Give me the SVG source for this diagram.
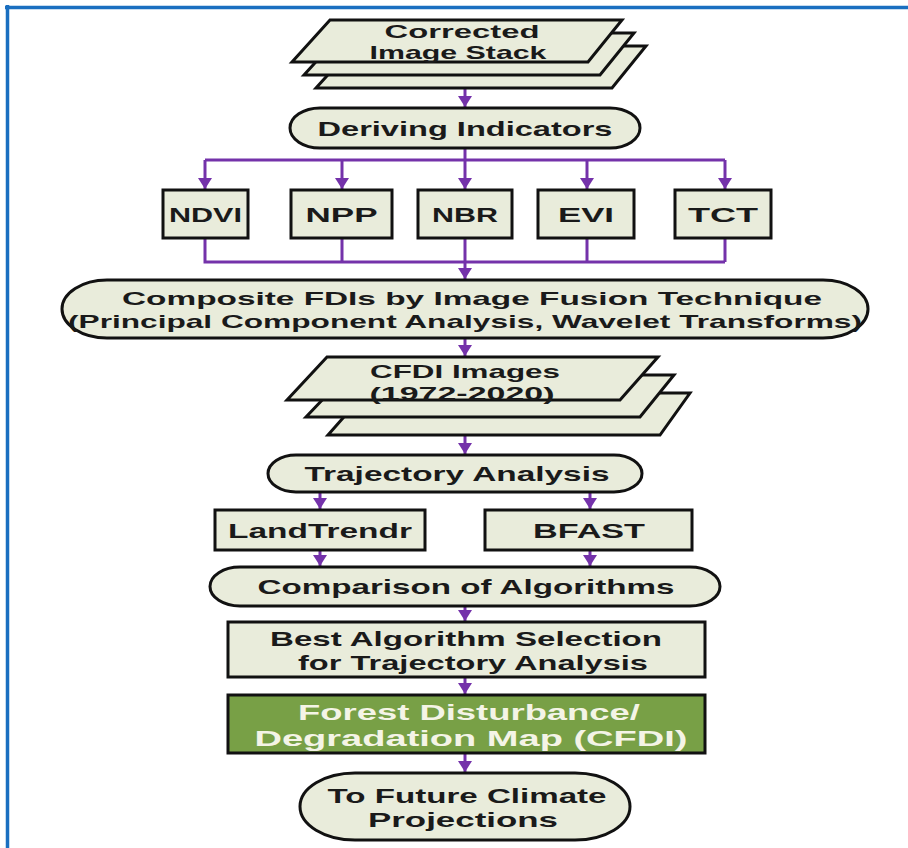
<svg xmlns="http://www.w3.org/2000/svg" width="908" height="848" viewBox="0 0 908 848">
<defs>
<style>
.n{fill:#e9ecdb;stroke:#111;stroke-width:3}
.g{fill:#78a046;stroke:#111;stroke-width:3}
.t{font-family:"Liberation Sans",Arial,sans-serif;font-weight:bold;font-size:21px;fill:#1a1a1a;text-anchor:middle}
.s{font-size:19px}
.w{fill:#f4f4e6;font-size:22px}
.c{fill:none;stroke:#7432aa;stroke-width:3}
</style>
<marker id="ah" markerUnits="userSpaceOnUse" markerWidth="11" markerHeight="14" viewBox="0 0 11 14" refX="11" refY="7" orient="auto">
<path d="M0,0 L11,7 L0,14 Z" fill="#7432aa"/>
</marker>
</defs>
<rect width="908" height="848" fill="#fff"/>
<path d="M5,7.5 H908 M7.5,5 V848" stroke="#1a6fc0" stroke-width="3.5" fill="none"/>

<g id="connectors">
<path class="c" d="M465,88 V107" marker-end="url(#ah)"/>
<path class="c" d="M465,148 V189" marker-end="url(#ah)"/>
<path class="c" d="M205,160 H725"/>
<path class="c" d="M205,160 V189" marker-end="url(#ah)"/>
<path class="c" d="M342,160 V189" marker-end="url(#ah)"/>
<path class="c" d="M587,160 V189" marker-end="url(#ah)"/>
<path class="c" d="M725,160 V189" marker-end="url(#ah)"/>
<path class="c" d="M205,238 V262 H725 M342,238 V262 M587,238 V262 M725,238 V262"/>
<path class="c" d="M465,238 V279" marker-end="url(#ah)"/>
<path class="c" d="M465,338 V356" marker-end="url(#ah)"/>
<path class="c" d="M465,435 V454" marker-end="url(#ah)"/>
<path class="c" d="M320,492 V509" marker-end="url(#ah)"/>
<path class="c" d="M590,492 V509" marker-end="url(#ah)"/>
<path class="c" d="M320,550 V566" marker-end="url(#ah)"/>
<path class="c" d="M590,550 V566" marker-end="url(#ah)"/>
<path class="c" d="M465,606 V621" marker-end="url(#ah)"/>
<path class="c" d="M465,677 V694" marker-end="url(#ah)"/>
<path class="c" d="M465,753 V772" marker-end="url(#ah)"/>
</g>

<g id="corrected-image-stack">
<polygon class="n" points="354,46 646,46 612,88 316,88"/>
<polygon class="n" points="342,33 634,33 600,75 304,75"/>
<polygon class="n" points="330,20 622,20 588,62 292,62"/>
<text class="t s" x="462" y="38" textLength="155" lengthAdjust="spacingAndGlyphs">Corrected</text>
<text class="t s" x="458" y="59" textLength="177" lengthAdjust="spacingAndGlyphs">Image Stack</text>
</g>

<g id="deriving-indicators">
<rect class="n" x="290" y="108" width="350" height="40" rx="30" ry="20"/>
<text class="t" x="465" y="135.5" textLength="295" lengthAdjust="spacingAndGlyphs">Deriving Indicators</text>
</g>

<g id="ndvi"><rect class="n" x="163" y="190" width="85" height="48"/><text class="t" x="205.5" y="222" textLength="73" lengthAdjust="spacingAndGlyphs">NDVI</text></g>
<g id="npp"><rect class="n" x="291" y="190" width="101" height="48"/><text class="t" x="341.5" y="222" textLength="72" lengthAdjust="spacingAndGlyphs">NPP</text></g>
<g id="nbr"><rect class="n" x="418" y="190" width="94" height="48"/><text class="t" x="465" y="222" textLength="66" lengthAdjust="spacingAndGlyphs">NBR</text></g>
<g id="evi"><rect class="n" x="538" y="190" width="96" height="48"/><text class="t" x="586" y="222" textLength="56" lengthAdjust="spacingAndGlyphs">EVI</text></g>
<g id="tct"><rect class="n" x="675" y="190" width="96" height="48"/><text class="t" x="723" y="222" textLength="70" lengthAdjust="spacingAndGlyphs">TCT</text></g>

<g id="composite-fdis">
<rect class="n" x="62" y="280" width="806" height="58" rx="45" ry="29"/>
<text class="t s" x="472" y="305" textLength="700" lengthAdjust="spacingAndGlyphs">Composite FDIs by Image Fusion Technique</text>
<text class="t s" x="465" y="328" textLength="794" lengthAdjust="spacingAndGlyphs">(Principal Component Analysis, Wavelet Transforms)</text>
</g>

<g id="cfdi-images">
<polygon class="n" points="365,393 690,393 660,435 328,435"/>
<polygon class="n" points="346,375 674,375 640,417 306,417"/>
<polygon class="n" points="327,357 658,357 620,400 287,400"/>
<text class="t s" x="465" y="378" textLength="190" lengthAdjust="spacingAndGlyphs">CFDI Images</text>
<text class="t s" x="462" y="400" textLength="185" lengthAdjust="spacingAndGlyphs">(1972-2020)</text>
</g>

<g id="trajectory-analysis">
<rect class="n" x="268" y="455" width="374" height="37" rx="28" ry="18.5"/>
<text class="t" x="457" y="481" textLength="305" lengthAdjust="spacingAndGlyphs">Trajectory Analysis</text>
</g>

<g id="landtrendr"><rect class="n" x="215" y="510" width="210" height="40"/><text class="t" x="320" y="538" textLength="184" lengthAdjust="spacingAndGlyphs">LandTrendr</text></g>
<g id="bfast"><rect class="n" x="485" y="510" width="207" height="40"/><text class="t" x="589" y="538" textLength="112" lengthAdjust="spacingAndGlyphs">BFAST</text></g>

<g id="comparison-of-algorithms">
<rect class="n" x="210" y="567" width="510" height="39" rx="30" ry="19.5"/>
<text class="t" x="466" y="594" textLength="417" lengthAdjust="spacingAndGlyphs">Comparison of Algorithms</text>
</g>

<g id="best-algorithm-selection">
<rect class="n" x="228" y="622" width="477" height="55"/>
<text class="t" x="466" y="646" textLength="392" lengthAdjust="spacingAndGlyphs">Best Algorithm Selection</text>
<text class="t" x="473" y="670" textLength="350" lengthAdjust="spacingAndGlyphs">for Trajectory Analysis</text>
</g>

<g id="forest-disturbance-map">
<rect class="g" x="228" y="695" width="477" height="58"/>
<text class="t w" x="469" y="720" textLength="342" lengthAdjust="spacingAndGlyphs">Forest Disturbance/</text>
<text class="t w" x="471" y="746" textLength="433" lengthAdjust="spacingAndGlyphs">Degradation Map (CFDI)</text>
</g>

<g id="future-climate-projections">
<rect class="n" x="300" y="773" width="330" height="67" rx="55" ry="33.5"/>
<text class="t" x="467" y="803" textLength="279" lengthAdjust="spacingAndGlyphs">To Future Climate</text>
<text class="t" x="463" y="827" textLength="190" lengthAdjust="spacingAndGlyphs">Projections</text>
</g>
</svg>
